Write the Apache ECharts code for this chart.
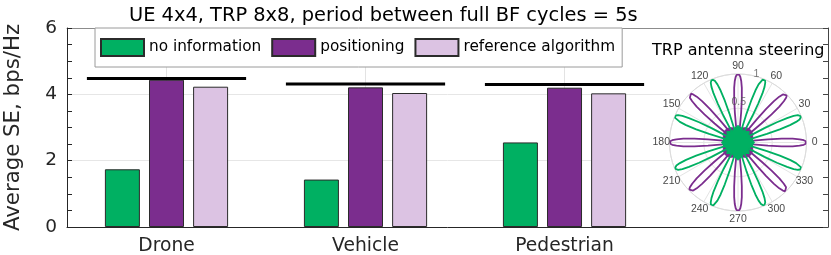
<!DOCTYPE html>
<html><head><meta charset="utf-8">
<script src="https://cdn.jsdelivr.net/npm/echarts@6/dist/echarts.min.js"></script>
<style>html,body{margin:0;padding:0;background:#fff}#c{width:831px;height:255px}</style>
</head><body><div id="c"></div>
<script>
// ---------- data ----------
const categories = ['Drone', 'Vehicle', 'Pedestrian'];
const catPos = [1, 2, 3];
const noInformation = [1.74, 1.43, 2.55];
const positioning = [4.44, 4.21, 4.20];
const referenceAlgorithm = [4.23, 4.04, 4.03];
const upperBound = [4.48, 4.31, 4.30];
const seriesNames = ['no information', 'positioning', 'reference algorithm'];

// polar inset: beam steering directions (deg) and one lobe shape
const positioningBeams = [0, 45, 90, 135, 180, 225, 270, 315];
const noInfoBeams = [22.5, 67.5, 112.5, 157.5, 202.5, 247.5, 292.5, 337.5];
const lobeOffset = [0, 1, 2, 3, 4, 5, 6, 7, 7.7, 8];
const lobeGain = [1, 0.99, 0.96, 0.9, 0.8, 0.64, 0.44, 0.22, 0.06, 0];
// side-lobe "blob" in the centre
const blobAngle = [0,15,30,45,60,75,90,105,120,135,150,165,180,195,210,225,240,255,270,285,300,315,330,345];
const noInfoBlob = [0.24,0.21,0.18,0.23,0.18,0.21,0.25,0.21,0.18,0.23,0.18,0.21,0.24,0.21,0.18,0.23,0.18,0.21,0.26,0.21,0.18,0.23,0.18,0.21];
const positioningBlob = [0.21,0.22,0.25,0.26,0.25,0.22,0.21,0.22,0.25,0.26,0.25,0.22,0.21,0.22,0.25,0.26,0.25,0.22,0.21,0.22,0.25,0.26,0.25,0.22];
// polar tick labels
const angleTicks = [0,30,60,90,120,150,180,210,240,270,300,330];
const radiusTickLabels = ['0.5', '1'];

// ---------- styling ----------
const FONT = 'DejaVu Sans';
const SMALLFONT = 'Liberation Sans';
const GREEN = '#00b062', PURPLE = '#7b2d8e', LAVENDER = '#dcc3e3';
const AXIS = '#262626';
const XMIN = 0.5, XMAX = 4.324;

function lobePath(beams) {
  const pts = [];
  beams.forEach(b => {
    for (let i = lobeOffset.length - 1; i >= 1; i--) pts.push([lobeGain[i], b - lobeOffset[i]]);
    for (let i = 0; i < lobeOffset.length; i++) pts.push([lobeGain[i], b + lobeOffset[i]]);
  });
  return pts;
}
function blobPath(r) {
  const pts = blobAngle.map((a, i) => [r[i], a]);
  pts.push([r[0], 360]);
  return pts;
}

const chart = echarts.init(document.getElementById('c'), null, {renderer: 'canvas'});

const barSeries = [noInformation, positioning, referenceAlgorithm].map((vals, k) => ({
  name: seriesNames[k],
  type: 'bar',
  xAxisIndex: 0, yAxisIndex: 0,
  barWidth: 35,
  barGap: '26%',
  z: 3,
  itemStyle: {color: [GREEN, PURPLE, LAVENDER][k], borderColor: '#2b2b2b', borderWidth: 1},
  data: catPos.map((x, i) => [x, vals[i]])
}));

const boundSeries = upperBound.map((v, i) => ({
  type: 'line', xAxisIndex: 0, yAxisIndex: 0, symbol: 'none', silent: true, z: 4,
  lineStyle: {color: '#000', width: 3},
  data: [[catPos[i] - 0.4, v], [catPos[i] + 0.4, v]]
}));

const option = {
  animation: false,
  backgroundColor: '#fff',
  title: [
    {text: 'UE 4x4, TRP 8x8, period between full BF cycles = 5s', left: 124, top: 1,
     textStyle: {fontFamily: FONT, fontSize: 19.4, fontWeight: 'normal', color: '#000'}},
    {text: 'TRP antenna steering', left: 647, top: 38,
     textStyle: {fontFamily: FONT, fontSize: 16, fontWeight: 'normal', color: '#000'}}
  ],
  legend: {
    data: seriesNames,
    left: 95, top: 28,
    orient: 'horizontal',
    itemWidth: 43, itemHeight: 17, itemGap: 10,
    padding: [10, 7, 10, 5],
    backgroundColor: '#fff', borderColor: '#9a9a9a', borderWidth: 1, borderRadius: 0,
    icon: 'rect',
    textStyle: {fontFamily: FONT, fontSize: 15.3, color: '#000'}
  },
  grid: {left: 67, right: 3, top: 28, bottom: 28, containLabel: false, outerBoundsMode: 'none'},
  xAxis: [
    {type: 'value', min: XMIN, max: XMAX, interval: 0.5, position: 'bottom',
     axisLine: {show: true, onZero: false, lineStyle: {color: AXIS, width: 1}},
     axisTick: {show: false}, splitLine: {show: false},
     axisLabel: {margin: 10, fontFamily: FONT, fontSize: 18.7, color: AXIS, showMaxLabel: false,
       formatter: v => { const i = catPos.indexOf(v); return i >= 0 ? categories[i] : ''; }}},
    {type: 'value', min: XMIN, max: XMAX, position: 'top',
     axisLine: {show: true, onZero: false, lineStyle: {color: '#8c8c8c', width: 1}},
     axisTick: {show: false}, axisLabel: {show: false}, splitLine: {show: false}}
  ],
  yAxis: [
    {type: 'value', min: 0, max: 6, interval: 2, position: 'left',
     name: 'Average SE, bps/Hz', nameLocation: 'middle', nameGap: 43,
     nameTextStyle: {fontFamily: FONT, fontSize: 21.3, color: AXIS},
     axisLine: {show: true, lineStyle: {color: AXIS}},
     axisTick: {show: true, inside: true, length: 5, lineStyle: {color: AXIS}},
     minorTick: {show: true, splitNumber: 4, length: 5, lineStyle: {color: AXIS}},
     splitLine: {show: true, lineStyle: {color: '#e6e6e6'}},
     axisLabel: {margin: 10, fontFamily: FONT, fontSize: 18.5, color: AXIS}},
    {type: 'value', min: 0, max: 6, interval: 2, position: 'right', z: 6,
     axisLine: {show: true, lineStyle: {color: '#444'}},
     axisTick: {show: true, inside: true, length: 5, lineStyle: {color: '#444'}},
     minorTick: {show: true, splitNumber: 4, length: 5, lineStyle: {color: '#444'}},
     splitLine: {show: false}, axisLabel: {show: false}}
  ],
  polar: {center: [738, 142.5], radius: 68.5},
  angleAxis: {
    type: 'value', min: 0, max: 360, interval: 30, startAngle: 0, clockwise: false, z: 2,
    axisLine: {show: true, lineStyle: {color: '#dcdcdc'}},
    axisTick: {show: false},
    splitLine: {show: true, lineStyle: {color: '#e4e4e4'}},
    axisLabel: {show: false}
  },
  radiusAxis: {
    type: 'value', min: 0, max: 1, interval: 0.5, z: 2,
    axisLine: {show: false}, axisTick: {show: false}, axisLabel: {show: false},
    splitLine: {show: true, lineStyle: {color: '#e4e4e4'}}
  },
  graphic: [
    {type: 'rect', shape: {x: 670, y: 29, width: 154, height: 197}, style: {fill: '#fff'}, z: 1, silent: true}
  ],
  series: [
    {type: 'line', xAxisIndex: 0, yAxisIndex: 0, data: [], z: 1, silent: true,
     markLine: {silent: true, z: 1, symbol: ['none', 'none'], label: {show: false},
       lineStyle: {color: '#e3e3e3', type: 'solid', width: 1},
       data: catPos.map(x => ({xAxis: x}))}},
    ...barSeries,
    ...boundSeries,
    {type: 'line', coordinateSystem: 'polar', symbol: 'none', silent: true, z: 3,
     lineStyle: {color: PURPLE, width: 1}, areaStyle: {color: PURPLE, opacity: 1},
     data: blobPath(positioningBlob)},
    {type: 'line', coordinateSystem: 'polar', symbol: 'none', silent: true, z: 4,
     lineStyle: {color: PURPLE, width: 1.8}, data: lobePath(positioningBeams)},
    {type: 'line', coordinateSystem: 'polar', symbol: 'none', silent: true, z: 5,
     lineStyle: {color: GREEN, width: 1.8}, data: lobePath(noInfoBeams)},
    {type: 'line', coordinateSystem: 'polar', symbol: 'none', silent: true, z: 6,
     lineStyle: {color: GREEN, width: 1}, areaStyle: {color: GREEN, opacity: 1},
     data: blobPath(noInfoBlob)},
    {type: 'scatter', coordinateSystem: 'polar', symbolSize: 0, silent: true, z: 7, clip: false,
     label: {show: true, position: 'inside', formatter: p => p.data[2], fontFamily: SMALLFONT, fontSize: 10.5, color: '#555'},
     data: [[0.59, 89, radiusTickLabels[0]], [1.04, 75, radiusTickLabels[1]]]},
    {type: 'scatter', coordinateSystem: 'polar', symbolSize: 0, silent: true, z: 7, clip: false,
     label: {show: true, position: 'inside', formatter: p => String(p.data[1]), fontFamily: SMALLFONT, fontSize: 10.5, color: '#111'},
     data: angleTicks.map(a => [1.12, a])}
  ]
};
chart.setOption(option);
</script></body></html>
